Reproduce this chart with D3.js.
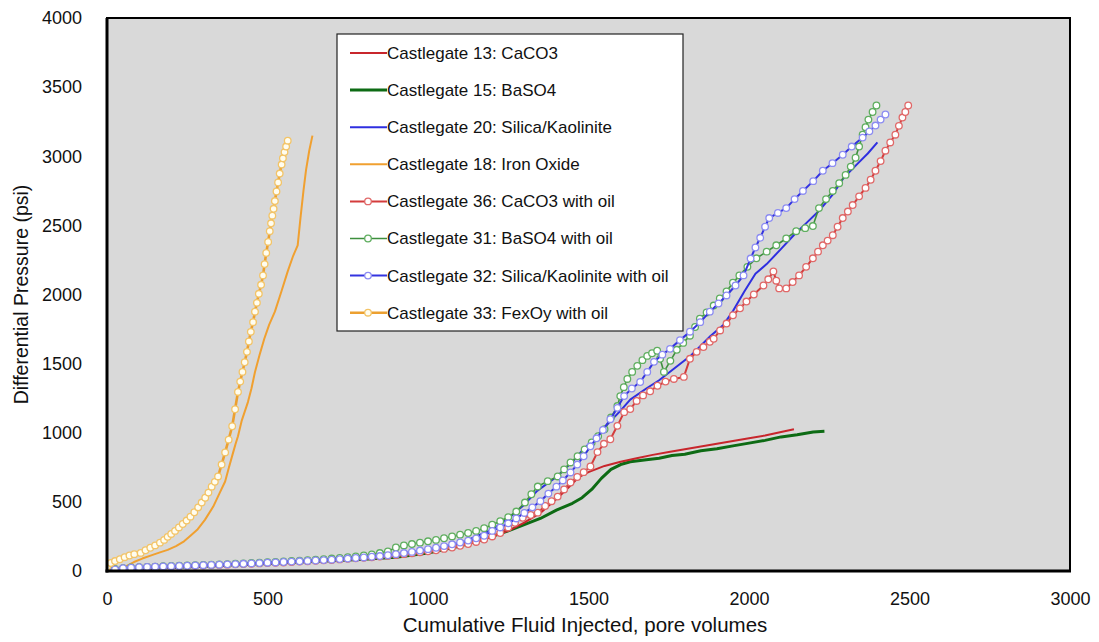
<!DOCTYPE html>
<html><head><meta charset="utf-8">
<script src="https://cdn.jsdelivr.net/npm/d3@7"></script>
<style>
body{margin:0;background:#fff;}
text{font-family:"Liberation Sans",Arial,sans-serif;fill:#111;}
</style>
</head><body>
<svg id="c" width="1099" height="642"></svg>
<script>
const xTicks=[0,500,1000,1500,2000,2500,3000];
const yTicks=[0,500,1000,1500,2000,2500,3000,3500,4000];
const xTitle="Cumulative Fluid Injected, pore volumes";
const yTitle="Differential Pressure (psi)";

const c13=[[0,0],[100,15],[200,25],[300,35],[400,45],[500,55],[600,68],[700,80],[800,95],[900,115],[1000,145],[1100,190],[1200,250],[1250,290],[1300,350],[1350,420],[1400,520],[1440,610],[1470,680],[1500,715],[1550,760],[1600,790],[1650,815],[1700,840],[1750,860],[1800,880],[1850,900],[1900,920],[1950,940],[2000,960],[2050,980],[2100,1005],[2140,1025]];
const c15=[[0,0],[100,15],[200,25],[300,35],[400,45],[500,55],[600,65],[700,75],[800,85],[900,100],[1000,130],[1100,180],[1200,250],[1250,290],[1300,335],[1350,380],[1400,440],[1450,490],[1480,530],[1510,590],[1540,670],[1570,735],[1600,770],[1630,790],[1680,805],[1720,815],[1760,835],[1800,845],[1850,870],[1900,885],[1950,905],[2000,925],[2050,945],[2100,970],[2150,985],[2200,1005],[2235,1010]];
const c20=[[0,0],[100,15],[200,25],[300,35],[400,45],[500,55],[600,68],[700,82],[800,98],[900,120],[1000,150],[1100,200],[1200,300],[1250,380],[1300,480],[1340,580],[1400,680],[1450,790],[1480,870],[1520,960],[1550,1040],[1600,1160],[1630,1240],[1680,1320],[1720,1380],[1770,1470],[1820,1560],[1880,1700],[1920,1780],[1950,1880],[1985,2020],[2020,2150],[2055,2220],[2100,2330],[2140,2430],[2180,2520],[2220,2610],[2260,2720],[2295,2845],[2340,2950],[2370,3020],[2400,3100]];
const c18=[[0,0],[30,15],[60,35],[84,65],[110,90],[140,115],[165,135],[189,153],[215,180],[240,215],[260,255],[281,298],[305,370],[331,466],[350,560],[368,647],[380,750],[393,858],[400,915],[408,975],[420,1090],[439,1222],[450,1320],[461,1440],[475,1560],[490,1680],[505,1780],[523,1876],[543,2020],[563,2167],[580,2280],[594,2356],[603,2560],[612,2750],[620,2900],[630,3040],[640,3149]];
const c36=[[0,0],[25,12],[50,18],[75,22],[100,25],[125,27],[150,29],[175,31],[200,33],[225,34],[250,36],[275,38],[300,40],[325,42],[350,44],[375,46],[400,48],[425,50],[450,52],[475,55],[500,57],[525,60],[550,62],[575,65],[600,68],[625,71],[650,74],[675,77],[700,80],[725,84],[750,88],[775,92],[800,96],[825,100],[850,105],[875,110],[900,116],[925,122],[950,128],[975,135],[1000,142],[1025,150],[1050,160],[1075,170],[1100,182],[1125,195],[1150,210],[1175,228],[1200,250],[1225,275],[1250,315],[1271,349],[1295,385],[1320,405],[1342,422],[1365,470],[1385,505],[1404,538],[1424,590],[1444,640],[1465,680],[1485,715],[1506,756],[1528,860],[1548,920],[1568,953],[1590,1050],[1611,1149],[1630,1171],[1650,1230],[1670,1270],[1692,1300],[1715,1340],[1740,1370],[1766,1389],[1797,1404],[1816,1535],[1837,1585],[1858,1620],[1878,1658],[1890,1680],[1910,1740],[1930,1790],[1950,1850],[1972,1900],[1992,1949],[2015,2000],[2045,2065],[2060,2110],[2076,2167],[2085,2100],[2094,2044],[2116,2044],[2136,2090],[2156,2138],[2178,2200],[2199,2262],[2215,2310],[2230,2356],[2245,2390],[2261,2429],[2276,2490],[2292,2553],[2308,2600],[2323,2647],[2343,2710],[2363,2771],[2379,2830],[2394,2895],[2410,2965],[2425,3040],[2440,3100],[2456,3156],[2467,3220],[2478,3280],[2487,3320],[2496,3367]];
const c31=[[0,0],[25,14],[50,21],[75,25],[100,28],[125,30],[150,32],[175,34],[200,36],[225,38],[250,40],[275,42],[300,44],[325,46],[350,48],[375,50],[400,53],[425,55],[450,58],[475,60],[500,63],[525,66],[550,69],[575,72],[600,75],[625,78],[650,82],[675,86],[700,90],[725,95],[750,100],[775,106],[800,112],[825,120],[850,130],[875,142],[900,170],[925,185],[950,195],[975,205],[1000,215],[1025,225],[1050,237],[1075,250],[1100,263],[1125,275],[1150,290],[1175,310],[1200,335],[1225,360],[1250,390],[1275,430],[1302,495],[1322,555],[1342,611],[1373,650],[1404,684],[1424,735],[1444,785],[1466,830],[1488,880],[1510,930],[1530,975],[1550,1025],[1570,1110],[1590,1193],[1599,1265],[1610,1330],[1621,1389],[1636,1440],[1652,1484],[1668,1525],[1683,1556],[1698,1575],[1714,1593],[1723,1535],[1735,1440],[1755,1520],[1775,1600],[1795,1650],[1816,1702],[1832,1765],[1847,1825],[1868,1870],[1890,1920],[1909,1971],[1930,2022],[1950,2085],[1970,2138],[1995,2200],[2023,2262],[2055,2310],[2085,2356],[2116,2405],[2147,2458],[2175,2480],[2199,2495],[2218,2625],[2240,2690],[2261,2749],[2281,2805],[2301,2865],[2317,2925],[2332,2989],[2343,3070],[2354,3156],[2363,3210],[2372,3265],[2385,3320],[2397,3367]];
const c32=[[0,0],[25,12],[50,20],[75,24],[100,27],[125,29],[150,31],[175,33],[200,35],[225,36],[250,38],[275,40],[300,42],[325,44],[350,46],[375,48],[400,50],[425,52],[450,55],[475,57],[500,60],[525,62],[550,65],[575,68],[600,70],[625,73],[650,76],[675,79],[700,82],[725,86],[750,90],[775,94],[800,98],[825,103],[850,108],[875,114],[900,122],[925,130],[950,138],[975,148],[1000,158],[1025,168],[1050,180],[1075,193],[1100,206],[1125,220],[1150,236],[1175,255],[1200,290],[1225,315],[1250,345],[1275,380],[1300,420],[1325,460],[1350,505],[1375,560],[1400,610],[1420,655],[1444,713],[1465,770],[1485,830],[1506,902],[1525,960],[1545,1020],[1568,1098],[1590,1180],[1611,1265],[1635,1320],[1661,1367],[1683,1440],[1704,1513],[1730,1565],[1754,1607],[1785,1670],[1816,1731],[1848,1800],[1878,1876],[1905,1935],[1930,1993],[1958,2065],[1983,2138],[2005,2260],[2020,2340],[2035,2410],[2050,2490],[2063,2553],[2090,2590],[2116,2625],[2142,2690],[2168,2749],[2200,2820],[2230,2895],[2260,2950],[2292,3011],[2320,3070],[2354,3135],[2375,3180],[2394,3222],[2410,3265],[2425,3302]];
const c33=[[0,30],[12,58],[25,72],[40,85],[55,100],[70,112],[85,122],[105,131],[120,150],[135,168],[150,185],[165,205],[178,225],[189,247],[200,268],[212,290],[224,315],[236,340],[248,365],[260,393],[272,425],[284,460],[295,495],[306,530],[316,567],[326,610],[336,645],[346,684],[357,770],[368,858],[379,950],[390,1047],[399,1170],[408,1295],[415,1370],[422,1440],[429,1510],[436,1585],[442,1660],[448,1730],[455,1800],[461,1876],[467,1940],[473,2005],[480,2070],[486,2138],[491,2220],[496,2300],[502,2380],[507,2458],[511,2515],[515,2570],[519,2620],[523,2676],[528,2745],[533,2810],[538,2875],[544,2940],[548,2985],[553,3030],[558,3070],[563,3113]];

const seriesNames=["Castlegate 13: CaCO3","Castlegate 15: BaSO4","Castlegate 20: Silica/Kaolinite","Castlegate 18: Iron Oxide","Castlegate 36: CaCO3 with oil","Castlegate 31: BaSO4 with oil","Castlegate 32: Silica/Kaolinite with oil","Castlegate 33: FexOy with oil"];
const seriesData=[c13,c15,c20,c18,c36,c31,c32,c33];
const lineColors=["#c8262c","#0d6b14","#2f2fe0","#f0a030","#d43c3c","#3d8f3d","#3434e0","#eca030"];
const lineWidths=[2,3,2,2,2,1.6,2,2.6];
const markerStroke=[null,null,null,null,"#e06868","#5fae5f","#8c8cf2","#f3c467"];
const markerFill=[null,null,null,null,"#ffffff","#ffffff","#ffffff","#fffdf0"];

const svg=d3.select("#c");
const L=107,R=1070,T=18,B=571;
const x=d3.scaleLinear().domain([0,3000]).range([L,R]);
const y=d3.scaleLinear().domain([0,4000]).range([B,T]);

svg.append("rect").attr("x",L).attr("y",T).attr("width",R-L).attr("height",B-T).attr("fill","#d9d9d9");

svg.append("clipPath").attr("id","pc").append("rect").attr("x",L).attr("y",T).attr("width",R-L).attr("height",B-T);
const g=svg.append("g").attr("clip-path","url(#pc)");
const line=d3.line().x(d=>x(d[0])).y(d=>y(d[1]));

const order=[1,0,2,3,4,5,6,7];
order.forEach(i=>{
  g.append("path").datum(seriesData[i]).attr("d",line).attr("fill","none")
   .attr("stroke",lineColors[i]).attr("stroke-width",lineWidths[i]).attr("stroke-linejoin","round");
  if(markerStroke[i]){
    g.append("g").selectAll("circle").data(seriesData[i]).join("circle")
     .attr("cx",d=>x(d[0])).attr("cy",d=>y(d[1])).attr("r",3.3)
     .attr("fill",markerFill[i]).attr("stroke",markerStroke[i]).attr("stroke-width",1.3);
  }
});

svg.append("rect").attr("x",L).attr("y",T).attr("width",R-L).attr("height",B-T).attr("fill","none").attr("stroke","#000").attr("stroke-width",2);
svg.append("line").attr("x1",L).attr("x2",L).attr("y1",T).attr("y2",B+1.5).attr("stroke","#000").attr("stroke-width",3);
svg.append("line").attr("x1",L-1.5).attr("x2",R+1).attr("y1",B).attr("y2",B).attr("stroke","#000").attr("stroke-width",3);

const ax=svg.append("g").attr("transform",`translate(0,${B})`)
  .call(d3.axisBottom(x).tickValues(xTicks).tickSize(0).tickPadding(21).tickFormat(d3.format("d")));
ax.select(".domain").remove();
ax.selectAll("text").style("font-size","18px").style("font-family","'Liberation Sans',Arial,sans-serif").attr("fill","#111");
const ay=svg.append("g").attr("transform",`translate(${L},0)`)
  .call(d3.axisLeft(y).tickValues(yTicks).tickSize(0).tickPadding(25).tickFormat(d3.format("d")));
ay.select(".domain").remove();
ay.selectAll("text").style("font-size","18px").style("font-family","'Liberation Sans',Arial,sans-serif").attr("fill","#111");

svg.append("text").attr("x",585).attr("y",632).attr("text-anchor","middle").style("font-size","20.5px").text(xTitle);
svg.append("text").attr("transform",`translate(28,${(T+B)/2}) rotate(-90)`).attr("text-anchor","middle").style("font-size","19.5px").text(yTitle);

const lg=svg.append("g");
lg.append("rect").attr("x",337).attr("y",34).attr("width",346).attr("height",297).attr("fill","#fff").attr("stroke","#222").attr("stroke-width",1.2);
seriesNames.forEach((name,i)=>{
  const yy=53+i*37.1;
  lg.append("line").attr("x1",350).attr("x2",387).attr("y1",yy).attr("y2",yy).attr("stroke",lineColors[i]).attr("stroke-width",lineWidths[i]);
  if(markerStroke[i]) lg.append("circle").attr("cx",368).attr("cy",yy).attr("r",3.3).attr("fill",markerFill[i]).attr("stroke",markerStroke[i]).attr("stroke-width",1.3);
  lg.append("text").attr("x",387).attr("y",yy).attr("dy","0.35em").style("font-size","17px").text(name);
});
</script>
</body></html>
